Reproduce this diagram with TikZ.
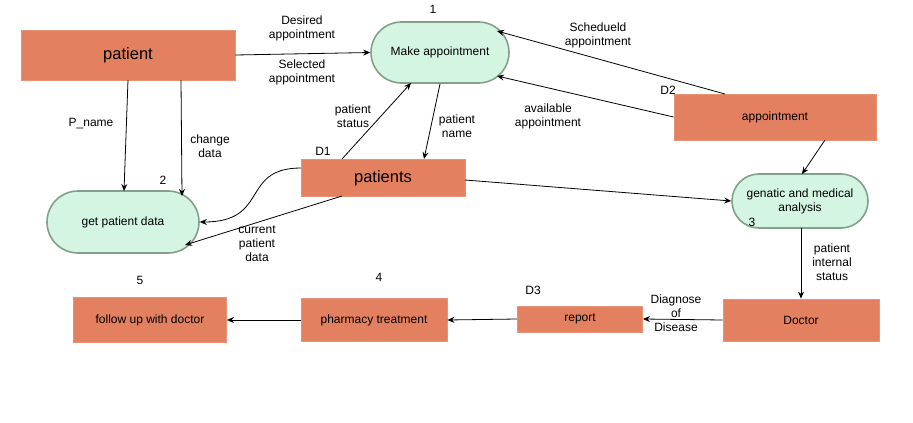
\documentclass[tikz,border=0pt]{standalone}
\usepackage{fontspec}
\setmainfont{Liberation Sans}
\usetikzlibrary{shapes.misc,arrows.meta}
\definecolor{boxfill}{HTML}{E3805F}
\definecolor{procfill}{HTML}{D5F5E3}
\definecolor{procline}{HTML}{82A08A}
\tikzset{
  store/.style={draw=boxfill!85!white, fill=boxfill, line width=0.8pt, inner sep=0pt, font=\fontsize{12}{14}\selectfont},
  proc/.style={rounded rectangle, draw=procline, fill=procfill, line width=1.6pt, inner sep=0pt, align=center, font=\fontsize{12}{14}\selectfont},
  flow/.style={-{Stealth[length=7pt,width=6pt]}, line width=0.8pt},
  lbl/.style={align=center, font=\fontsize{12}{14}\selectfont, inner sep=0pt},
  num/.style={font=\fontsize{12}{14}\selectfont, inner sep=0pt}
}
\begin{document}
\begin{tikzpicture}[x=1pt,y=-1pt]
\useasboundingbox (0,0) rectangle (913,423);
% stores / entities
\node[store, minimum width=214pt, minimum height=50pt, font=\fontsize{16.5}{19}\selectfont] (patient) at (128,55) {patient};
\node[store, minimum width=164pt, minimum height=37pt, font=\fontsize{16.5}{19}\selectfont] (patients) at (383,178) {patients};
\node[store, minimum width=202pt, minimum height=46pt] (appt) at (775,117) {appointment};
\node[store, minimum width=156pt, minimum height=42pt] (doctor) at (801,320) {Doctor};
\node[store, minimum width=125pt, minimum height=26pt] (report) at (580,319) {report};
\node[store, minimum width=146pt, minimum height=43pt] (pharm) at (374,320) {pharmacy treatment};
\node[store, minimum width=153pt, minimum height=45pt] (follow) at (150,320) {follow up with doctor};
% processes
\node[proc, minimum width=138pt, minimum height=61pt] (make) at (440,52.5) {Make appointment};
\node[proc, minimum width=152pt, minimum height=62pt] (get) at (123,222) {get patient data};
\node[proc, minimum width=136pt, minimum height=54pt] (gen) at (800,201) {genatic and medical\\analysis};
% numbers
\node[num] (n1) at (433,9) {1};
\node[num] (n2) at (163,180) {2};
\node[num] (n3) at (752,222) {3};
\node[num] (n4) at (379,277) {4};
\node[num] (n5) at (140,280) {5};
\node[num] (d1) at (323,151) {D1};
\node[num] (d2) at (668,90) {D2};
\node[num] (d3) at (533,290) {D3};
% connectors
\draw[flow] (patient.east) -- (make.west);
\node[lbl] (l1) at (302,28) {Desired\\appointment};
\node[lbl] (l2) at (302,72) {Selected\\appointment};
\draw[flow] (128,80) -- (124,191);
\node[lbl] (l3) at (91,124) {P\_name};
\draw[flow] (181,80) -- (182,196);
\node[lbl] (l4) at (210,146) {change\\data};
\draw[flow] (342,159) -- (411,83);
\node[lbl] (l5) at (353,116) {patient\\status};
\draw[flow] (440,84) -- (424,159);
\node[lbl] (l6) at (457,126) {patient\\name};
\draw[flow] (301,168) .. controls (240,168) and (270,222) .. (get.east);
\draw[flow] (342,196) -- (185,245);
\node[lbl] (l7) at (257,244) {current\\patient\\data};
\draw[flow] (725,94) -- (497,31);
\node[lbl] (l8) at (598,35) {Schedueld\\appointment};
\draw[flow] (appt.west) -- (497,76);
\node[lbl] (l9) at (548,116) {available\\appointment};
\draw[flow] (825,140) -- (802,174);
\draw[flow] (465,180) -- (gen.west);
\draw[flow] (801,228) -- (doctor.north);
\node[lbl] (l10) at (832,262) {patient\\internal\\status};
\draw[flow] (doctor.west) -- (report.east);
\node[lbl] (l11) at (676,313) {Diagnose\\of\\Disease};
\draw[flow] (report.west) -- (pharm.east);
\draw[flow] (pharm.west) -- (follow.east);
\end{tikzpicture}
\end{document}
